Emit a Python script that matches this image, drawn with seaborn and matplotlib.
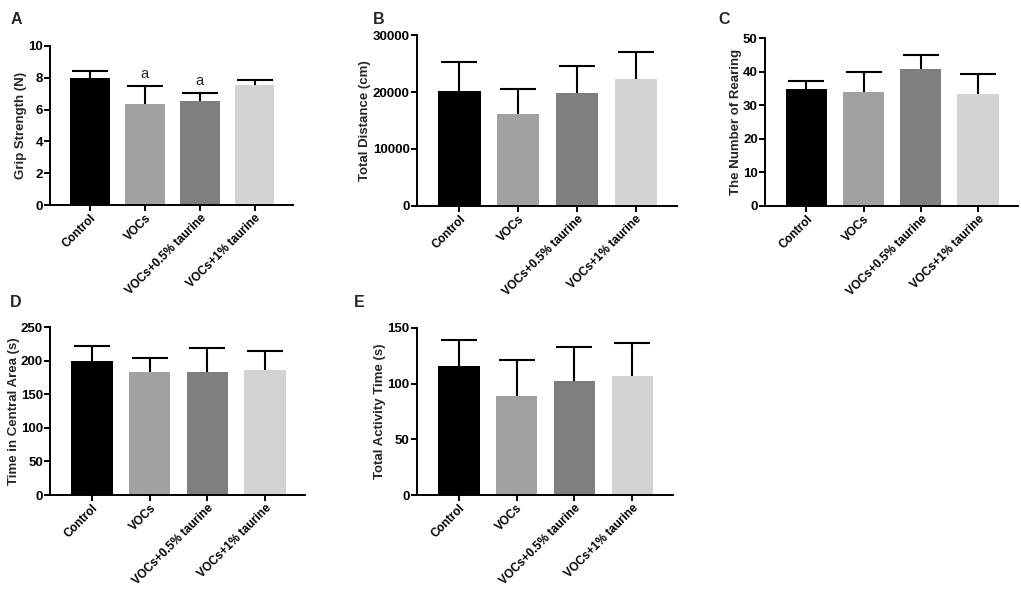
import matplotlib
matplotlib.use("Agg")
import matplotlib.pyplot as plt
import numpy as np
import pandas as pd
import seaborn as sb

# groups and colours
groups = ['Control', 'VOCs', 'VOCs+0.5% taurine', 'VOCs+1% taurine']
bar_colors = ['#000000', '#A0A0A6', '#7F7F7F', '#D3D3D3']

# bar heights (mean) and top of the error bar
grip_mean = [8.0, 6.35, 6.55, 7.55]
grip_top = [8.45, 7.5, 7.05, 7.85]
grip_marks = ['', 'a', 'a', '']

dist_mean = [20200, 16200, 19800, 22300]
dist_top = [25200, 20600, 24500, 27000]

rear_mean = [34.7, 33.9, 40.7, 33.2]
rear_top = [37.3, 39.8, 45.0, 39.2]

central_mean = [200, 184, 183, 187]
central_top = [222, 204, 219, 214]

activity_mean = [115.5, 88.5, 102.5, 107]
activity_top = [139, 121.5, 133, 136.5]

sb.set_style("ticks")
plt.rcParams['font.family'] = ['Liberation Sans', 'DejaVu Sans']
plt.rcParams['font.weight'] = 'bold'

fig = plt.figure(figsize=(10.21, 5.95), dpi=100)

panels = [
    # letter, axes rect, means, tops, ylabel, ylim, yticks, marks, letter pos
    ('A', [0.049, 0.655, 0.238, 0.268], grip_mean, grip_top, 'Grip Strength (N)',
     10, np.arange(0, 11, 2), grip_marks, (0.010, 0.980)),
    ('B', [0.408, 0.654, 0.255, 0.287], dist_mean, dist_top, 'Total Distance (cm)',
     30000, np.arange(0, 30001, 10000), None, (0.365, 0.980)),
    ('C', [0.749, 0.654, 0.248, 0.282], rear_mean, rear_top, 'The Number of Rearing',
     50, np.arange(0, 51, 10), None, (0.704, 0.980)),
    ('D', [0.049, 0.168, 0.250, 0.282], central_mean, central_top, 'Time in Central Area (s)',
     250, np.arange(0, 251, 50), None, (0.010, 0.504)),
    ('E', [0.408, 0.168, 0.251, 0.281], activity_mean, activity_top, 'Total Activity Time (s)',
     150, np.arange(0, 151, 50), None, (0.347, 0.504)),
]

for letter, rect, means, tops, ylabel, ymax, yticks, marks, lpos in panels:
    ax = fig.add_axes(rect)
    df = pd.DataFrame({'group': groups, 'value': means})
    sb.barplot(data=df, x='group', y='value', hue='group', order=groups,
               hue_order=groups, palette=bar_colors, legend=False,
               width=0.72, linewidth=0, ax=ax)
    upper = np.array(tops) - np.array(means)
    eb = ax.errorbar(np.arange(len(groups)), means, yerr=[np.zeros(len(groups)), upper],
                     fmt='none', ecolor='black', elinewidth=1.5, capsize=13,
                     capthick=1.5, zorder=5)
    # only the upper cap, like the original
    eb[1][0].set_visible(False)
    if marks is not None:
        for i, m in enumerate(marks):
            if m:
                ax.text(i, tops[i] + ymax * 0.03, m, ha='center', va='bottom',
                        fontsize=10.5, fontweight='normal')
    ax.set_ylim(0, ymax)
    ax.set_xlim(-0.73, 3.7)
    ax.set_yticks(yticks)
    ax.set_xlabel('')
    ax.set_ylabel(ylabel, fontsize=9.5, fontweight='bold', labelpad=1)
    ax.set_xticks(range(len(groups)))
    ax.set_xticklabels(groups, rotation=45, ha='right', rotation_mode='anchor',
                       fontsize=8.5, fontweight='bold')
    for t in ax.get_yticklabels():
        t.set_fontsize(9.5)
        t.set_fontweight('bold')
    ax.tick_params(axis='both', direction='out', length=4, width=1.4,
                   colors='black', pad=1)
    sb.despine(ax=ax)
    for s in ['left', 'bottom']:
        ax.spines[s].set_linewidth(1.4)
        ax.spines[s].set_color('black')
    fig.text(lpos[0], lpos[1], letter, fontsize=11.5, fontweight='bold',
             ha='left', va='top')

fig.savefig('out.png', dpi=100)
